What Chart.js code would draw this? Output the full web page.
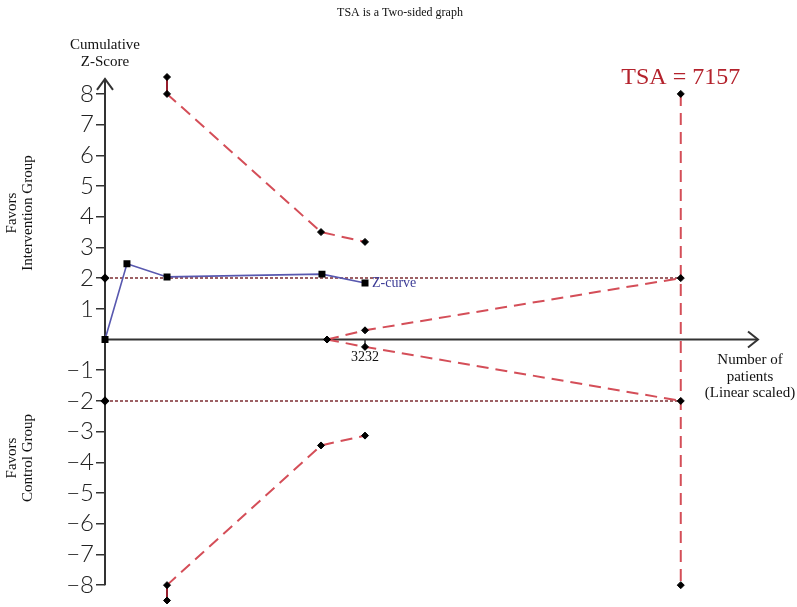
<!DOCTYPE html>
<html>
<head>
<meta charset="utf-8">
<script src="https://cdn.jsdelivr.net/npm/chart.js@4.4.0/dist/chart.umd.min.js"></script>
<style>
html,body{margin:0;padding:0;background:#fff;}
#wrap{position:relative;width:797px;height:607px;}
</style>
</head>
<body>
<div id="wrap"><canvas id="c" width="797" height="607"></canvas></div>
<script>
// ---- data ----
const zPatients = [0, 273, 771, 2697, 3232];
const zValues = [0, 2.47, 2.04, 2.13, 1.84];

const upperBoundPatients = [771, 771, 2685, 3232];
const upperBoundValues = [8.55, 8.0, 3.50, 3.18];
const lowerBoundPatients = [771, 771, 2685, 3232];
const lowerBoundValues = [-8.50, -8.0, -3.45, -3.13];

const futilityPatients = [2760, 3232, 7157];
const futilityUpper = [0, 0.30, 2.0];
const futilityLower = [0, -0.24, -2.0];

const tsaPatients = [7157, 7157];
const tsaValues = [8, -8];

const convPatients = [0, 7157];
const convUpper = [2, 2];
const convLower = [-2, -2];

const yTicks = [-8, -7, -6, -5, -4, -3, -2, -1, 1, 2, 3, 4, 5, 6, 7, 8];
const xTickValue = 3232;
const xMax = 8117;
const yAxisTop = 8.49;

const toXY = (xs, ys) => xs.map((x, i) => ({x: x, y: ys[i]}));

const RED = 'rgb(212,78,88)';
const DARKRED = 'rgb(150,30,45)';
const DOT = 'rgb(125,45,50)';

const dashed = {
  showLine: true, clip: false, borderColor: RED, borderWidth: 2, borderDash: [12, 7],
  pointStyle: 'rectRot', pointRadius: 3.5, pointBackgroundColor: '#000', pointBorderColor: '#000', pointBorderWidth: 1
};
const boundSeg = {
  borderDash: c => c.p0DataIndex === 0 ? [] : [12, 7],
  borderColor: c => c.p0DataIndex === 0 ? DARKRED : RED
};

const axesPlugin = {
  id: 'axesPlugin',
  beforeDatasetsDraw(chart) {
    const ctx = chart.ctx, xs = chart.scales.x, ys = chart.scales.y;
    const x0 = xs.getPixelForValue(0), y0 = ys.getPixelForValue(0);
    const xEnd = xs.getPixelForValue(xMax);
    const yTop = ys.getPixelForValue(yAxisTop), yBot = ys.getPixelForValue(-8);
    ctx.save();
    ctx.strokeStyle = '#333'; ctx.lineWidth = 2; ctx.setLineDash([]);
    // y axis
    ctx.beginPath(); ctx.moveTo(x0, yBot); ctx.lineTo(x0, yTop); ctx.stroke();
    ctx.beginPath(); ctx.moveTo(x0 - 8, yTop + 11); ctx.lineTo(x0, yTop); ctx.lineTo(x0 + 8, yTop + 11); ctx.stroke();
    // x axis
    ctx.beginPath(); ctx.moveTo(x0, y0); ctx.lineTo(xEnd, y0); ctx.stroke();
    ctx.beginPath(); ctx.moveTo(xEnd - 10, y0 - 8); ctx.lineTo(xEnd, y0); ctx.lineTo(xEnd - 10, y0 + 8); ctx.stroke();
    // x tick
    const xt = xs.getPixelForValue(xTickValue);
    ctx.lineWidth = 1.5;
    ctx.beginPath(); ctx.moveTo(xt, y0); ctx.lineTo(xt, y0 + 6); ctx.stroke();
    ctx.restore();
  },
  afterDatasetsDraw(chart) {
    const ctx = chart.ctx, xs = chart.scales.x, ys = chart.scales.y;
    const x0 = xs.getPixelForValue(0), y0 = ys.getPixelForValue(0);
    ctx.save();
    ctx.textAlign = 'center'; ctx.textBaseline = 'middle';
    ctx.fillStyle = '#111';
    ctx.font = '12px "Liberation Serif"';
    ctx.fillText('TSA is a Two-sided graph', 400, 13);
    ctx.font = '15px "Liberation Serif"';
    ctx.fillText('Cumulative', x0, 45);
    ctx.fillText('Z-Score', x0, 62);
    ctx.font = '14px "Liberation Serif"';
    ctx.fillText(String(xTickValue), xs.getPixelForValue(xTickValue), y0 + 18);
    ctx.font = '15px "Liberation Serif"';
    ctx.fillText('Number of', 750, 360);
    ctx.fillText('patients', 750, 377);
    ctx.fillText('(Linear scaled)', 750, 393);
    // TSA label
    ctx.fillStyle = 'rgb(180,35,45)';
    ctx.font = '24px "Liberation Serif"';
    ctx.fillText('TSA = 7157', xs.getPixelForValue(7157), 78);
    // Z-curve label
    ctx.fillStyle = 'rgb(60,60,150)';
    ctx.font = '14px "Liberation Serif"';
    ctx.textAlign = 'left';
    ctx.fillText('Z-curve', xs.getPixelForValue(zPatients[zPatients.length - 1]) + 7, ys.getPixelForValue(zValues[zValues.length - 1]));
    // rotated side labels
    ctx.fillStyle = '#111';
    ctx.textAlign = 'center';
    ctx.font = '15px "Liberation Serif"';
    const rot = (lines, cx, cy) => {
      ctx.save(); ctx.translate(cx, cy); ctx.rotate(-Math.PI / 2);
      lines.forEach((t, i) => ctx.fillText(t, 0, (i - (lines.length - 1) / 2) * 16));
      ctx.restore();
    };
    rot(['Favors', 'Intervention Group'], 20, 213);
    rot(['Favors', 'Control Group'], 20, 458);
    ctx.restore();
  }
};

new Chart(document.getElementById('c'), {
  type: 'scatter',
  data: {
    datasets: [
      {label: 'Z-curve', data: toXY(zPatients, zValues), showLine: true, clip: false, borderColor: 'rgb(88,88,175)', borderWidth: 1.6,
       pointStyle: 'rect', pointRadius: 3.8, pointBackgroundColor: '#000', pointBorderColor: '#000'},
      Object.assign({label: 'Upper boundary', data: toXY(upperBoundPatients, upperBoundValues), segment: boundSeg}, dashed),
      Object.assign({label: 'Lower boundary', data: toXY(lowerBoundPatients, lowerBoundValues), segment: boundSeg}, dashed),
      Object.assign({label: 'Futility upper', data: toXY(futilityPatients, futilityUpper)}, dashed),
      Object.assign({label: 'Futility lower', data: toXY(futilityPatients, futilityLower)}, dashed),
      Object.assign({label: 'TSA', data: toXY(tsaPatients, tsaValues)}, dashed),
      {label: 'Conventional upper', data: toXY(convPatients, convUpper), showLine: true, clip: false, borderColor: DOT, borderWidth: 1.5, borderDash: [3, 2],
       pointStyle: 'rectRot', pointRadius: [3.5, 0], pointBackgroundColor: '#000', pointBorderColor: '#000'},
      {label: 'Conventional lower', data: toXY(convPatients, convLower), showLine: true, clip: false, borderColor: DOT, borderWidth: 1.5, borderDash: [3, 2],
       pointStyle: 'rectRot', pointRadius: [3.5, 0], pointBackgroundColor: '#000', pointBorderColor: '#000'}
    ]
  },
  options: {
    responsive: false,
    animation: false,
    events: [],
    layout: {padding: {left: 58, right: 39, top: 71.5, bottom: 1.5}},
    plugins: {legend: {display: false}, tooltip: {enabled: false}},
    scales: {
      x: {type: 'linear', min: 0, max: xMax, display: false},
      y: {
        type: 'linear', min: -8.53, max: 8.73,
        afterBuildTicks: s => { s.ticks = yTicks.map(v => ({value: v})); },
        afterFit: s => { s.width = 47; s.paddingTop = 0; s.paddingBottom = 0; },
        border: {display: false},
        grid: {drawOnChartArea: false, drawTicks: true, tickLength: 9, color: '#333', lineWidth: 1.5},
        ticks: {
          padding: 2, color: '#222',
          font: {family: 'Lato', size: 24, weight: 300},
          callback: v => v < 0 ? '\u2212' + Math.abs(v) : String(v)
        }
      }
    }
  },
  plugins: [axesPlugin]
});
</script>
</body>
</html>
